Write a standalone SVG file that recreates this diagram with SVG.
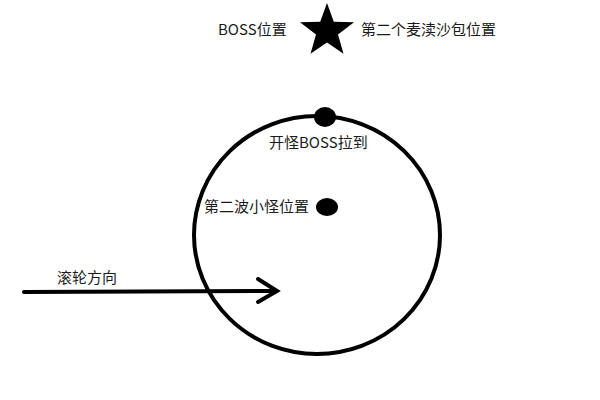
<svg xmlns="http://www.w3.org/2000/svg" width="600" height="400" viewBox="0 0 600 400">
<style>
text{font-family:"Noto Sans CJK SC","Noto Sans",sans-serif;font-size:15px;fill:#1a1a1a}
.ln{fill:none;stroke:#000;stroke-width:4;stroke-linecap:round;stroke-linejoin:miter}
.dot{fill:#000}
</style>
<rect width="600" height="400" fill="#fff"/>
<g id="ring"><ellipse cx="317" cy="235" rx="123" ry="119" class="ln"/></g>
<g id="star">
<polygon class="dot" points="327,3 333.8,21.7 354,22.3 338,34.6 343.5,53.7 327,42.5 310.5,53.7 316,34.6 300,22.3 320.2,21.7"/>
<text x="218" y="35">BOSS位置</text>
<text x="361" y="35">第二个麦渎沙包位置</text>
</g>
<g id="top-dot">
<ellipse class="dot" cx="325" cy="117" rx="11" ry="10"/>
<text x="269" y="148">开怪BOSS拉到</text>
</g>
<g id="mid-dot">
<ellipse class="dot" cx="327" cy="207" rx="11" ry="9"/>
<text x="204" y="212">第二波小怪位置</text>
</g>
<g id="connectors">
<path class="ln" d="M24,292 L276,291"/>
<path class="ln" d="M258,279 L277,291 L258,302" stroke-linecap="butt"/>
<text x="57" y="283">滚轮方向</text>
</g>
</svg>
